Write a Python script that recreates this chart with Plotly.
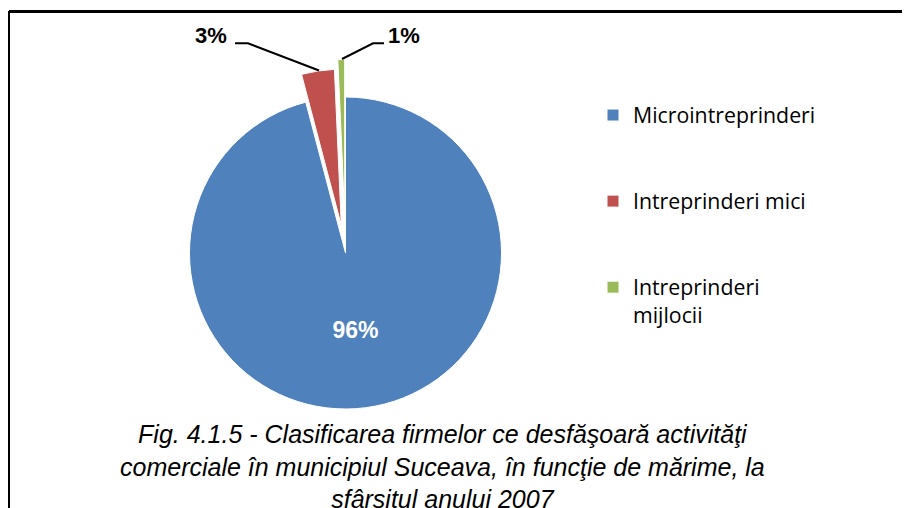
import textwrap
import plotly.graph_objects as go

# date
categorii = ["Microintreprinderi", "Intreprinderi mici", "Intreprinderi mijlocii"]
ponderi = [95.9, 3.4, 0.7]
culori = ["#4F81BD", "#C0504D", "#9BBB59"]
desprindere = [0, 0.18, 0.24]
titlu = ("Fig. 4.1.5 - Clasificarea firmelor ce desfăşoară activităţi<br>"
         "comerciale în municipiul Suceava, în funcţie de mărime, la<br>"
         "sfârşitul anului 2007")

# pagina are margine de 8px pe body, deci figura e 902x500
W, H = 902, 500
OFF = 8


def pp(x, y):
    # pixeli din pagina -> coordonate paper (margini 0)
    return (x - OFF) / W, 1 - (y - OFF) / H


procente = [round(v / sum(ponderi) * 100) for v in ponderi]

# etichete legenda: linii goale pentru spatiere ca in Excel
etichete = []
for c in categorii:
    rand = textwrap.wrap(c, 20)
    if len(rand) == 1:
        rand = ["", rand[0], ""]
    else:
        rand = [""] + rand
    etichete.append("<br>".join(rand))

# centru si raza placintei (pixeli pagina)
cx, cy, r = 345.5, 253, 156
box = 2 * r * (1 + max(desprindere))
x0, y1 = pp(cx - box / 2, cy - box / 2)
x1, y0 = pp(cx + box / 2, cy + box / 2)

fig = go.Figure()
fig.add_trace(go.Pie(
    labels=etichete,
    values=ponderi,
    sort=False,
    direction="clockwise",
    rotation=0,
    pull=desprindere,
    marker=dict(colors=culori, line=dict(color="white", width=1)),
    text=[f"{procente[0]}%", "", ""],
    textinfo="text",
    textposition="inside",
    insidetextorientation="horizontal",
    textfont=dict(family="Liberation Sans", size=23, color="white", weight="bold"),
    domain=dict(x=[x0, x1], y=[y0, y1]),
    hoverinfo="label+percent",
))

# linii de legatura pentru etichetele mici
lin3 = [pp(235, 43.3), pp(248, 43.3), pp(319, 70.5)]
lin1 = [pp(384, 43.3), pp(373, 43.3), pp(342, 59)]


def cale(pts):
    return "M " + " L ".join(f"{x:.4f},{y:.4f}" for x, y in pts)


shapes = [
    dict(type="path", xref="paper", yref="paper", path=cale(lin3),
         line=dict(color="black", width=2)),
    dict(type="path", xref="paper", yref="paper", path=cale(lin1),
         line=dict(color="black", width=2)),
    # chenar
    dict(type="line", xref="paper", yref="paper",
         x0=pp(9, 0)[0], x1=1, y0=pp(0, 11.5)[1], y1=pp(0, 11.5)[1],
         line=dict(color="black", width=3)),
    dict(type="line", xref="paper", yref="paper",
         x0=pp(9, 0)[0], x1=pp(9, 0)[0], y0=pp(0, 11)[1], y1=0,
         line=dict(color="black", width=2)),
]

font_et = dict(family="Liberation Sans", size=22, color="black", weight="bold")
annotations = [
    dict(text=f"{procente[1]}%", x=pp(211, 0)[0], y=pp(0, 35.5)[1],
         xanchor="center", yanchor="middle",
         xref="paper", yref="paper", showarrow=False, font=font_et),
    dict(text=f"{procente[2]}%", x=pp(404, 0)[0], y=pp(0, 35.5)[1],
         xanchor="center", yanchor="middle",
         xref="paper", yref="paper", showarrow=False, font=font_et),
    dict(text=titlu, x=pp(442, 0)[0], y=pp(0, 466)[1],
         xref="paper", yref="paper", showarrow=False, align="center",
         xanchor="center", yanchor="middle",
         font=dict(family="Liberation Sans", size=25, color="black", style="italic")),
]

fig.update_layout(
    width=W, height=H,
    autosize=False,
    margin=dict(l=0, r=0, t=0, b=0),
    paper_bgcolor="white",
    plot_bgcolor="white",
    showlegend=True,
    legend=dict(
        x=pp(593, 0)[0], xanchor="left",
        y=pp(0, 67)[1], yanchor="top",
        font=dict(family="Open Sans", size=21.3, color="black"),
        bgcolor="rgba(0,0,0,0)",
        borderwidth=0,
    ),
    shapes=shapes,
    annotations=annotations,
)

fig.write_html("out.html")
